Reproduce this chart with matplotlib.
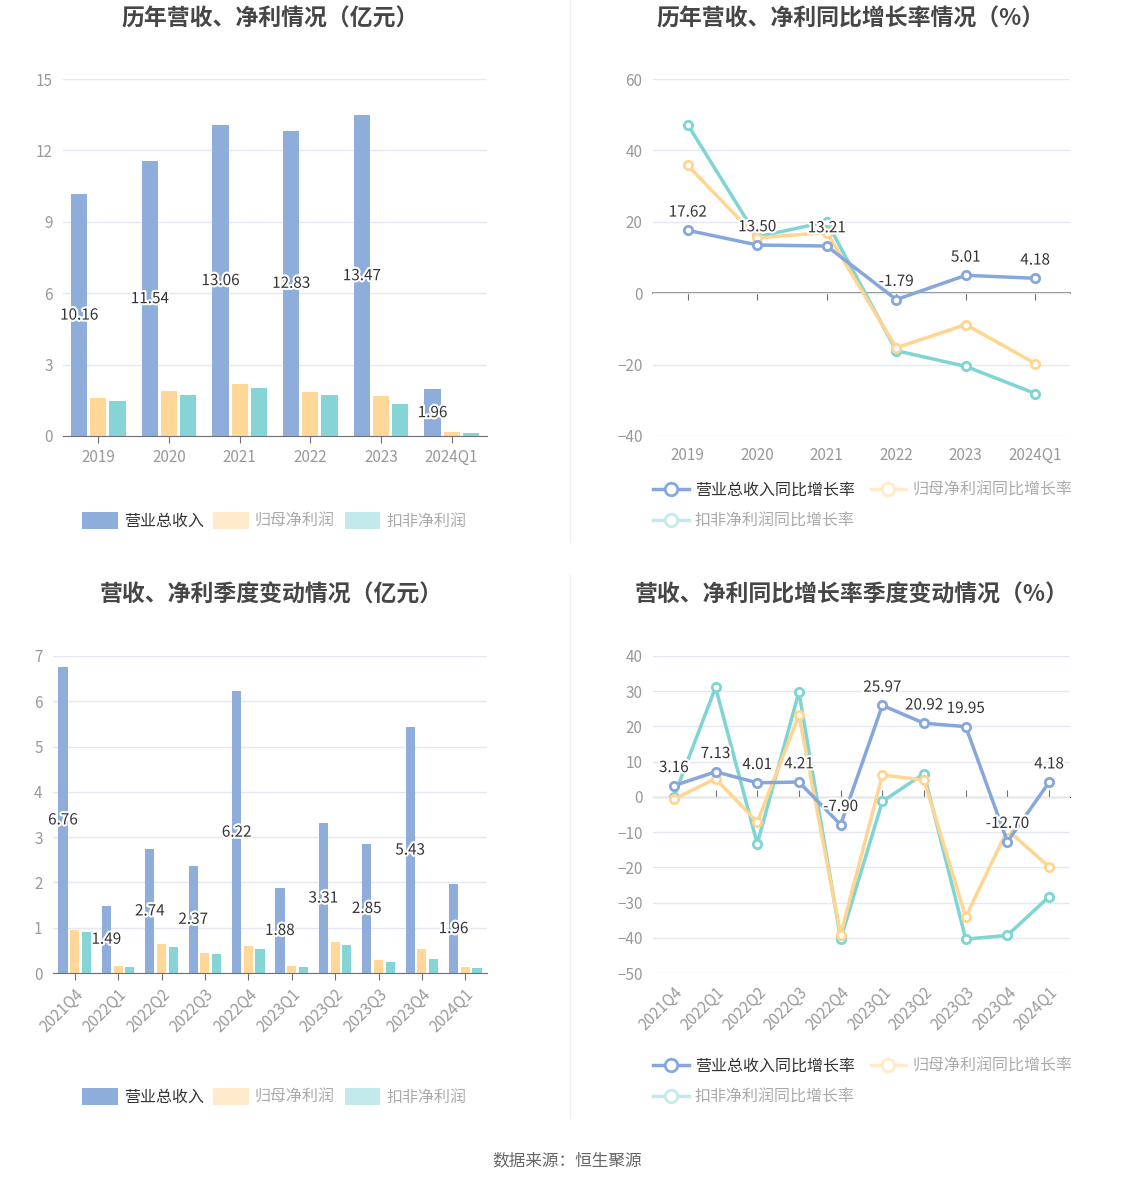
import numpy as np
import matplotlib
matplotlib.use("Agg")
import matplotlib.pyplot as plt
import matplotlib.patheffects as pe
from matplotlib.patches import Patch
from matplotlib.lines import Line2D

plt.rcParams['font.family'] = ['Noto Sans CJK SC', 'DejaVu Sans']

# data
years = ['2019', '2020', '2021', '2022', '2023', '2024Q1']
rev_year = [10.16, 11.54, 13.06, 12.83, 13.47, 1.96]
np_year = [1.61, 1.87, 2.19, 1.85, 1.68, 0.15]
npd_year = [1.47, 1.71, 2.03, 1.71, 1.36, 0.11]

rev_yoy_year = [17.62, 13.50, 13.21, -1.79, 5.01, 4.18]
np_yoy_year = [35.8, 15.5, 17.0, -15.3, -8.8, -19.7]
npd_yoy_year = [47.2, 15.8, 20.0, -16.1, -20.5, -28.1]

quarters = ['2021Q4', '2022Q1', '2022Q2', '2022Q3', '2022Q4',
            '2023Q1', '2023Q2', '2023Q3', '2023Q4', '2024Q1']
rev_q = [6.76, 1.49, 2.74, 2.37, 6.22, 1.88, 3.31, 2.85, 5.43, 1.96]
np_q = [0.96, 0.15, 0.65, 0.44, 0.59, 0.16, 0.68, 0.28, 0.54, 0.13]
npd_q = [0.91, 0.13, 0.57, 0.43, 0.54, 0.13, 0.62, 0.24, 0.32, 0.10]

rev_yoy_q = [3.16, 7.13, 4.01, 4.21, -7.90, 25.97, 20.92, 19.95, -12.70, 4.18]
np_yoy_q = [-0.7, 5.2, -7.2, 23.2, -39.1, 6.2, 4.8, -34.1, -9.4, -19.9]
npd_yoy_q = [0.0, 31.1, -13.3, 29.8, -40.4, -1.3, 6.6, -40.4, -39.3, -28.3]

bar_names = ['营业总收入', '归母净利润', '扣非净利润']
line_names = ['营业总收入同比增长率', '归母净利润同比增长率', '扣非净利润同比增长率']

BLUE = '#8eaddb'
YELLOW = '#ffd899'
CYAN = '#86d4d6'
LBLUE = '#86a7dc'
LYELLOW = '#ffd591'
LCYAN = '#7fd4d4'
GRID = '#e3e8f3'
AXIS = '#6e7079'
TICKC = '#999999'

W, H = 1134, 1188
fig = plt.figure(figsize=(W / 100, H / 100), dpi=100)
stroke = [pe.withStroke(linewidth=3, foreground='white')]


def box(x0, y0, x1, y1):
    return [x0 / W, 1 - y1 / H, (x1 - x0) / W, (y1 - y0) / H]


def style(ax, ylim, yticks):
    ax.set_ylim(*ylim)
    ax.set_yticks(yticks)
    ax.grid(axis='y', color=GRID, linewidth=1)
    ax.set_axisbelow(True)
    for s in ['top', 'right', 'left']:
        ax.spines[s].set_visible(False)
    ax.tick_params(axis='y', length=0, labelsize=11, labelcolor=TICKC, pad=7.5)
    ax.tick_params(axis='x', labelsize=11, labelcolor=TICKC, color=AXIS)


def bar_chart(ax, cats, rev, np_, npd, ylim, yticks, off, bw, rot):
    x = np.arange(len(cats))
    ax.bar(x - off, rev, bw, color=BLUE)
    ax.bar(x, np_, bw, color=YELLOW)
    ax.bar(x + off, npd, bw, color=CYAN)
    for xi, v in zip(x, rev):
        ax.text(xi - off, v / 2, f'{v:.2f}', ha='center', va='center',
                fontsize=11, color='#333333', path_effects=stroke)
    ax.set_xlim(-0.5, len(cats) - 0.5)
    style(ax, ylim, yticks)
    ax.spines['bottom'].set_color(AXIS)
    ax.set_xticks(x)
    if rot:
        ax.set_xticklabels(cats, rotation=45, ha='right', rotation_mode='anchor')
    else:
        ax.set_xticklabels(cats)
    ax.tick_params(axis='x', length=5, pad=4)


def line_chart(ax, cats, a, b, c, ylim, yticks, rot):
    x = np.arange(len(cats))
    mk = dict(marker='o', markersize=6, markerfacecolor='white', markeredgewidth=2, linewidth=2.5)
    ax.plot(x, c, color=LCYAN, **mk, zorder=3)
    ax.plot(x, b, color=LYELLOW, **mk, zorder=3)
    ax.plot(x, a, color=LBLUE, **mk, zorder=4)
    for xi, v in zip(x, a):
        ax.annotate(f'{v:.2f}', (xi, v), xytext=(0, 7), textcoords='offset points',
                    ha='center', va='bottom', fontsize=11, color='#333333',
                    path_effects=stroke, zorder=5)
    ax.set_xlim(-0.5, len(cats) - 0.5)
    style(ax, ylim, yticks)
    ax.spines['bottom'].set_visible(False)
    ax.set_xticks(x)
    if rot:
        ax.set_xticklabels(cats, rotation=45, ha='right', rotation_mode='anchor')
    else:
        ax.set_xticklabels(cats)
    ax.tick_params(axis='x', length=0, pad=8)
    loc = (0 - ylim[0]) / (ylim[1] - ylim[0])
    sec = ax.secondary_xaxis(loc)
    sec.set_xticks(x)
    sec.set_xticklabels([])
    sec.tick_params(length=5, color=AXIS)
    sec.spines['bottom'].set_color(AXIS)
    sec.spines['bottom'].set_linewidth(1.2)


ax1 = fig.add_axes(box(63, 79, 487, 436))
bar_chart(ax1, years, rev_year, np_year, npd_year, (0, 15), range(0, 16, 3), 0.27, 0.23, False)

ax2 = fig.add_axes(box(653, 79, 1070, 436))
line_chart(ax2, years, rev_yoy_year, np_yoy_year, npd_yoy_year, (-40, 60), range(-40, 61, 20), False)

ax3 = fig.add_axes(box(53, 656, 487, 973))
bar_chart(ax3, quarters, rev_q, np_q, npd_q, (0, 7), range(0, 8), 0.27, 0.21, True)

ax4 = fig.add_axes(box(653, 656, 1070, 973))
line_chart(ax4, quarters, rev_yoy_q, np_yoy_q, npd_yoy_q, (-50, 40), range(-50, 41, 10), True)

# titles
tkw = dict(ha='center', va='center', fontsize=16.5, fontweight='bold', color='#464646')
fig.text(270 / W, 1 - 19 / H, '历年营收、净利情况（亿元）', **tkw)
fig.text(851 / W, 1 - 19 / H, '历年营收、净利同比增长率情况（%）', **tkw)
fig.text(271 / W, 1 - 595 / H, '营收、净利季度变动情况（亿元）', **tkw)
fig.text(852 / W, 1 - 595 / H, '营收、净利同比增长率季度变动情况（%）', **tkw)

# separators
fig.add_artist(Line2D([570 / W, 570 / W], [1 - 0 / H, 1 - 542 / H], color='#eeeeee', linewidth=1))
fig.add_artist(Line2D([570 / W, 570 / W], [1 - 575 / H, 1 - 1118 / H], color='#eeeeee', linewidth=1))

# legends
bar_handles = [Patch(facecolor=BLUE, edgecolor='none'),
               Patch(facecolor='#ffebcc', edgecolor='none'),
               Patch(facecolor='#c3eaeb', edgecolor='none')]
line_handles = [Line2D([], [], color=LBLUE, marker='o', markersize=9, markerfacecolor='white', markeredgewidth=2, linewidth=2.5),
                Line2D([], [], color='#ffebcc', marker='o', markersize=9, markerfacecolor='white', markeredgewidth=2, linewidth=2.5),
                Line2D([], [], color='#c3eaeb', marker='o', markersize=9, markerfacecolor='white', markeredgewidth=2, linewidth=2.5)]

for yc in [521, 1097]:
    lg = fig.legend(bar_handles, bar_names, loc='center left', bbox_to_anchor=(68 / W, 1 - yc / H),
                    ncol=3, frameon=False, fontsize=11.5, handlelength=2.2, handleheight=1.3,
                    columnspacing=0.6, handletextpad=0.4)
    for i, t in enumerate(lg.get_texts()):
        t.set_color('#333333' if i == 0 else '#aaaaaa')

for yc in [505.5, 1081.5]:
    order = [0, 2, 1]
    lg = fig.legend([line_handles[i] for i in order], [line_names[i] for i in order],
                    loc='center left', bbox_to_anchor=(639 / W, 1 - yc / H),
                    ncol=2, frameon=False, fontsize=11.5, handlelength=2.2,
                    columnspacing=1.0, handletextpad=0.4, labelspacing=0.9)
    for t in lg.get_texts():
        t.set_color('#333333' if t.get_text() == line_names[0] else '#aaaaaa')

fig.text(567 / W, 1 - 1161 / H, '数据来源：恒生聚源', ha='center', va='center', fontsize=12, color='#666666')

fig.savefig('out.png', dpi=100, facecolor='white')
